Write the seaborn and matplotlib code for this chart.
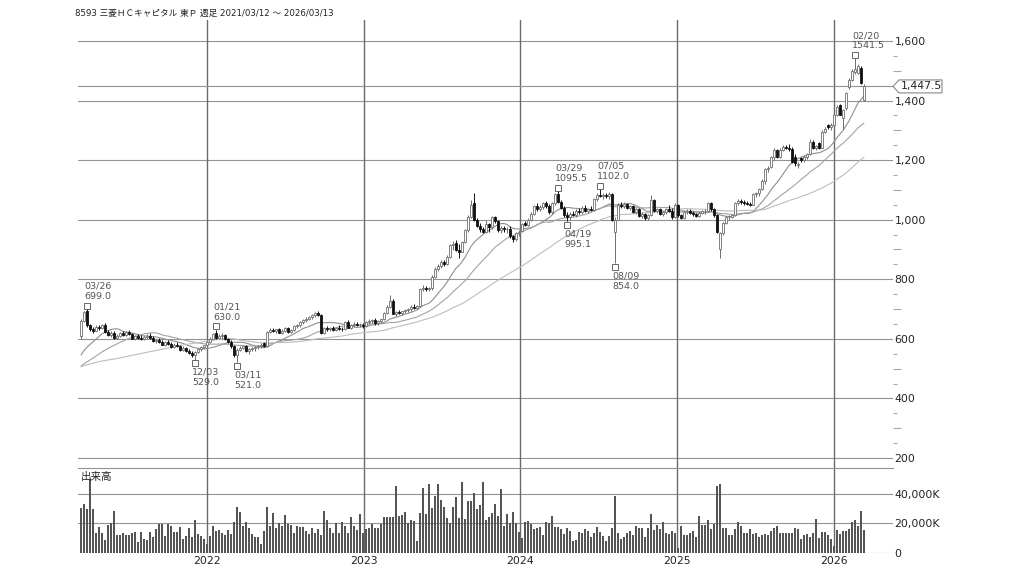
import numpy as np
import pandas as pd
import matplotlib
matplotlib.use("Agg")
import matplotlib.pyplot as plt
from matplotlib.patches import Polygon
from matplotlib.transforms import IdentityTransform, offset_copy
from matplotlib.ticker import FixedLocator, FuncFormatter, NullFormatter
import seaborn as sns

# ---------------- data ----------------
title = "8593 三菱ＨＣキャピタル 東Ｐ 週足 2021/03/12 ～ 2026/03/13"
start_date = "2021-03-12"
volume_label = "出来高"

# weekly (open, high, low, close)
ohlc_2021 = [
    (610, 668, 600, 660), (660, 695, 655, 690), (692, 699, 640, 645), (645, 650, 628, 632),
    (632, 640, 620, 628), (628, 645, 625, 640), (640, 648, 630, 635), (635, 650, 632, 645),
    (645, 652, 620, 622), (622, 630, 610, 612), (612, 625, 605, 620), (620, 628, 600, 602),
    (602, 615, 598, 610), (610, 622, 605, 618), (618, 625, 608, 612), (612, 628, 610, 622),
    (622, 630, 612, 615), (615, 620, 598, 600), (600, 612, 595, 608), (608, 615, 600, 604),
    (604, 612, 596, 598), (598, 610, 595, 606), (606, 615, 600, 610), (610, 618, 600, 603),
    (603, 608, 590, 592), (592, 600, 585, 595), (595, 602, 585, 588), (588, 595, 578, 580),
    (580, 592, 575, 588), (588, 596, 580, 584), (584, 590, 570, 572), (572, 585, 568, 580),
    (580, 588, 572, 576), (576, 580, 560, 562), (562, 575, 558, 570), (570, 574, 555, 558),
    (558, 565, 548, 552), (552, 560, 540, 545), (545, 560, 529, 556), (556, 568, 552, 565),
    (565, 575, 560, 572), (572, 580, 565, 578), (578, 592, 575, 588),
]
ohlc_2022 = [
    (588, 605, 585, 600), (600, 618, 598, 615), (618, 630, 600, 603), (603, 615, 598, 610),
    (610, 618, 600, 612), (612, 615, 595, 598), (598, 602, 585, 590), (590, 595, 570, 575),
    (575, 580, 540, 545), (545, 568, 521, 563), (563, 575, 558, 570), (570, 580, 565, 575),
    (575, 578, 555, 558), (558, 568, 550, 565), (565, 572, 560, 568), (568, 575, 560, 572),
    (572, 580, 565, 576), (576, 585, 570, 580), (585, 590, 572, 575), (575, 628, 572, 624),
    (624, 635, 618, 630), (630, 636, 622, 626), (626, 634, 620, 632), (632, 638, 618, 620),
    (620, 632, 615, 628), (628, 640, 622, 636), (636, 640, 618, 622), (622, 632, 618, 630),
    (630, 645, 626, 642), (642, 650, 635, 646), (646, 660, 640, 655), (655, 666, 650, 662),
    (662, 672, 655, 668), (668, 678, 662, 674), (674, 685, 668, 680), (680, 690, 675, 686),
    (686, 692, 676, 680), (680, 684, 615, 620), (620, 640, 615, 635), (635, 642, 628, 632),
    (632, 640, 625, 636), (636, 642, 628, 630), (630, 640, 625, 638), (638, 645, 630, 634),
    (634, 640, 628, 632), (632, 660, 630, 656), (656, 662, 635, 638), (638, 650, 634, 646),
    (646, 655, 640, 650), (650, 656, 642, 645), (645, 652, 640, 648), (648, 652, 638, 642),
]
ohlc_2023 = [
    (642, 660, 640, 655), (655, 665, 650, 660), (660, 668, 652, 664), (664, 670, 648, 652),
    (652, 662, 648, 660), (660, 668, 654, 665), (665, 690, 662, 688), (688, 712, 684, 708),
    (708, 747, 705, 728), (728, 735, 682, 685), (685, 695, 678, 690), (690, 696, 682, 686),
    (686, 695, 680, 692), (692, 700, 686, 696), (696, 705, 690, 700), (700, 712, 695, 708),
    (708, 716, 700, 704), (704, 712, 700, 710), (710, 772, 708, 768), (768, 780, 760, 772),
    (772, 778, 762, 768), (768, 775, 760, 770), (770, 815, 765, 808), (808, 840, 805, 835),
    (835, 850, 828, 845), (845, 865, 838, 858), (858, 866, 845, 850), (850, 880, 848, 875),
    (875, 920, 872, 915), (915, 930, 898, 920), (922, 932, 895, 898), (898, 918, 870, 893),
    (893, 930, 890, 925), (925, 970, 922, 965), (965, 1015, 960, 1010), (1010, 1066, 1005, 1049),
    (1055, 1089, 995, 1000), (1000, 1005, 975, 978), (978, 990, 960, 968), (968, 975, 955, 960),
    (960, 1000, 955, 985), (985, 990, 960, 975), (975, 1012, 970, 1008), (1008, 1012, 990, 995),
    (995, 998, 960, 965), (965, 978, 955, 972), (972, 980, 960, 968), (968, 975, 955, 970),
    (970, 980, 940, 945), (945, 950, 925, 935), (935, 958, 930, 955), (955, 965, 945, 960),
]
ohlc_2024 = [
    (962, 990, 958, 985), (990, 995, 978, 982), (982, 1005, 978, 1000), (1000, 1025, 995, 1020),
    (1020, 1050, 1015, 1045), (1045, 1055, 1030, 1035), (1035, 1048, 1028, 1042), (1042, 1058, 1035, 1055),
    (1055, 1062, 1040, 1045), (1045, 1052, 1020, 1025), (1025, 1060, 1020, 1055), (1055, 1090, 1050, 1085),
    (1085, 1095.5, 1055, 1060), (1060, 1065, 1035, 1040), (1040, 1045, 1010, 1015), (1015, 1025, 995.1, 1008),
    (1008, 1025, 1000, 1020), (1020, 1030, 1012, 1016), (1016, 1035, 1010, 1030), (1030, 1040, 1020, 1025),
    (1025, 1045, 1020, 1040), (1040, 1048, 1025, 1028), (1028, 1040, 1022, 1036), (1036, 1045, 1028, 1032),
    (1032, 1072, 1030, 1068), (1068, 1088, 1062, 1084), (1084, 1102, 1075, 1080), (1080, 1088, 1070, 1082),
    (1082, 1090, 1072, 1078), (1078, 1092, 1070, 1086), (1086, 1090, 995, 1000), (960, 1010, 854, 1000),
    (1000, 1055, 998, 1050), (1050, 1060, 1040, 1045), (1045, 1058, 1038, 1052), (1052, 1056, 1035, 1040),
    (1040, 1050, 1032, 1045), (1045, 1050, 1022, 1025), (1025, 1038, 1018, 1035), (1035, 1040, 1008, 1012),
    (1012, 1025, 1005, 1020), (1020, 1022, 1000, 1005), (1005, 1018, 1000, 1015), (1015, 1083, 1012, 1065),
    (1065, 1070, 1025, 1030), (1030, 1040, 1022, 1035), (1035, 1038, 1015, 1018), (1018, 1030, 1012, 1025),
    (1025, 1040, 1020, 1036), (1036, 1048, 1025, 1030), (1030, 1040, 1002, 1008), (1008, 1055, 1005, 1048),
]
ohlc_2025 = [
    (1048, 1052, 1010, 1015), (1015, 1020, 1002, 1006), (1006, 1030, 1002, 1025), (1025, 1035, 1018, 1030),
    (1030, 1036, 1020, 1024), (1024, 1030, 1012, 1018), (1018, 1022, 1008, 1012), (1012, 1028, 1008, 1024),
    (1024, 1032, 1018, 1028), (1028, 1035, 1020, 1030), (1030, 1060, 1025, 1055), (1055, 1060, 1030, 1035),
    (1035, 1040, 1010, 1016), (1016, 1020, 955, 960), (900, 958, 870, 954), (954, 992, 950, 988),
    (988, 1012, 985, 1008), (1008, 1015, 1000, 1010), (1010, 1020, 1005, 1015), (1016, 1058, 1012, 1055),
    (1055, 1068, 1050, 1062), (1062, 1070, 1052, 1060), (1060, 1066, 1050, 1055), (1055, 1062, 1048, 1052),
    (1052, 1060, 1045, 1050), (1050, 1090, 1048, 1085), (1085, 1092, 1076, 1088), (1088, 1108, 1080, 1104),
    (1104, 1136, 1100, 1130), (1130, 1175, 1120, 1170), (1170, 1180, 1160, 1175), (1178, 1215, 1175, 1210),
    (1210, 1240, 1200, 1234), (1234, 1238, 1208, 1212), (1212, 1240, 1208, 1235), (1235, 1250, 1230, 1245),
    (1245, 1252, 1236, 1240), (1240, 1255, 1232, 1238), (1238, 1245, 1190, 1195), (1210, 1220, 1180, 1189),
    (1185, 1195, 1172, 1188), (1206, 1212, 1195, 1200), (1200, 1218, 1195, 1212), (1212, 1225, 1205, 1220),
    (1222, 1270, 1218, 1262), (1262, 1266, 1236, 1240), (1240, 1252, 1234, 1248), (1256, 1262, 1238, 1242),
    (1242, 1300, 1240, 1296), (1296, 1310, 1290, 1306), (1318, 1322, 1305, 1310), (1310, 1325, 1302, 1318),
]
ohlc_2026 = [
    (1318, 1355, 1315, 1352), (1352, 1385, 1348, 1378), (1385, 1390, 1350, 1352), (1340, 1372, 1305, 1368),
    (1375, 1430, 1370, 1425), (1447, 1475, 1440, 1469), (1470, 1505, 1465, 1500), (1497, 1541.5, 1490, 1505),
    (1492, 1522, 1488, 1515), (1510, 1515, 1455, 1458), (1402, 1455, 1398, 1447.5),
]

# weekly volume, thousands of shares
vol_2021 = [30800, 33000, 29500, 50400, 30100, 13700, 17800, 13700, 8800, 18900, 20000, 28600, 11900,
            11900, 13300, 11900, 11900, 13300, 14200, 7400, 14200, 9700, 8800, 14200, 10600, 16000,
            19600, 19600, 11500, 19600, 18200, 14200, 14200, 17300, 9700, 11500, 16900, 10600, 22700,
            12800, 11500, 9700, 6100]
vol_2022 = [11500, 18200, 15100, 15500, 13700, 12200, 15500, 12800, 20900, 31300,
            27700, 18200, 20900, 16700, 12800, 10600, 10600, 6100, 15100, 31300,
            18200, 26800, 16700, 20500, 18200, 25700, 19600, 18900, 13300, 18200,
            17800, 17300, 14600, 12800, 16900, 13300, 16000, 11900, 28600, 22300,
            16900, 13300, 20500, 13700, 20900, 18200, 13700, 24100, 18200, 15500,
            26300, 13700]
vol_2023 = [16000, 16900, 19600, 16700, 16900, 19600, 24100, 24500, 24500, 24100,
            45700, 25400, 25900, 27900, 20000, 22700, 21400, 7900, 26800, 43900,
            26300, 47000, 30800, 38500, 47000, 35800, 31300, 23400, 20000, 31300,
            38000, 23600, 47900, 23200, 35300, 35300, 40700, 29900, 32200, 48400,
            22700, 24100, 26800, 33100, 25000, 43400, 18200, 26300, 20000, 27900,
            20000, 14400]
vol_2024 = [9900, 20700, 21400, 19400, 16200, 16700, 17800, 12400, 20900, 20000,
            25000, 17300, 17300, 16400, 12800, 16700, 14600, 7900, 8800, 14200,
            13700, 16000, 14600, 11000, 13700, 17800, 14200, 11500, 8300, 11500,
            16900, 38500, 13300, 9200, 10600, 13300, 14600, 11900, 18200, 16700,
            16900, 11000, 16900, 26300, 15500, 19100, 16000, 20900, 13700, 12800,
            15100, 13300]
vol_2025 = [3200, 18200, 12400, 12400, 13300, 15100, 10600, 25400, 19100, 19100,
            22300, 16400, 19600, 45200, 47000, 16900, 16900, 11900, 11900, 16400,
            20900, 18200, 13700, 13700, 16000, 12800, 13300, 10600, 12400, 12800,
            11900, 14600, 16700, 18200, 13700, 13700, 13700, 13700, 13700, 16700,
            16000, 9700, 11900, 12800, 10600, 13300, 23200, 10100, 14200, 14200,
            11900, 9700]
vol_2026 = [4700, 15500, 12800, 14600, 14600, 16400, 20900, 22700, 18200, 28600, 15500]

# closes of the 51 weeks before the window (only feed the moving averages)
prior_closes = [470, 480, 500, 510, 495, 505, 520, 530, 540, 535, 520, 510, 505, 500, 495, 500,
                505, 510, 500, 490, 495, 500, 505, 495, 490, 485,
                480, 475, 470, 465, 460, 458, 462, 468, 470, 472, 478, 480, 485,
                490, 500, 510, 515, 520, 525, 530, 540, 555, 565, 580, 600]

ma_windows = [13, 26, 52]
year_ticks = ["2022", "2023", "2024", "2025", "2026"]
price_ticks = [200, 400, 600, 800, 1000, 1200, 1400, 1600]
volume_ticks = [0, 20000, 40000]
high_marks = ["2021-03-26", "2022-01-21", "2024-03-29", "2024-07-05", "2026-02-20"]
low_marks = ["2021-12-03", "2022-03-11", "2024-04-19", "2024-08-09"]

# ---------------- frame ----------------
ohlc = ohlc_2021 + ohlc_2022 + ohlc_2023 + ohlc_2024 + ohlc_2025 + ohlc_2026
volume = vol_2021 + vol_2022 + vol_2023 + vol_2024 + vol_2025 + vol_2026
df = pd.DataFrame(ohlc, columns=["open", "high", "low", "close"])
df["volume"] = volume
start = pd.Timestamp(start_date)
df["date"] = pd.date_range(start, periods=len(df), freq="7D")
df["i"] = np.arange(len(df))
all_close = pd.Series(prior_closes + list(df["close"]), dtype=float)
for w in ma_windows:
    df[f"ma{w}"] = all_close.rolling(w).mean().iloc[len(prior_closes):].to_numpy()

# ---------------- style / layout ----------------
sns.set_style("white")
plt.rcParams["font.family"] = ["DejaVu Sans", "Noto Sans CJK JP"]

W, H = 1024, 576
L, R = 78, 893
fig = plt.figure(figsize=(W / 100, H / 100), dpi=100)
ax_p = fig.add_axes([L / W, (H - 468) / H, (R - L) / W, (468 - 20) / H])
ax_v = fig.add_axes([L / W, (H - 553) / H, (R - L) / W, (553 - 468) / H])

grid_c = "#939393"
year_c = "#6a6a6a"
year_pos = [(pd.Timestamp(f"{y}-01-01") - start).days / 7 for y in year_ticks]
for ax in (ax_p, ax_v):
    for x in year_pos:
        ax.axvline(x, color=year_c, lw=1.0, zorder=1)

# candles
up = df["close"] >= df["open"]
body_bottom = np.minimum(df["open"], df["close"])
body_h = np.maximum((df["close"] - df["open"]).abs(), 2.0)
ax_p.vlines(df["i"][up], df["low"][up], df["high"][up], color="#6e6e6e", lw=0.7, zorder=3)
ax_p.vlines(df["i"][~up], df["low"][~up], df["high"][~up], color="#111111", lw=0.7, zorder=3)
ax_p.bar(df["i"][up], body_h[up], bottom=body_bottom[up], width=0.8,
         facecolor="white", edgecolor="#6e6e6e", lw=0.6, zorder=4)
ax_p.bar(df["i"][~up], body_h[~up], bottom=body_bottom[~up], width=0.8,
         facecolor="#111111", edgecolor="#111111", lw=0.6, zorder=4)

# moving averages
ma_colors = ["#8f8f8f", "#a3a3a3", "#bdbdbd"]
for w, c in zip(ma_windows, ma_colors):
    sns.lineplot(x=df["i"], y=df[f"ma{w}"], ax=ax_p, color=c, lw=0.8, zorder=2)

# last price line
last = df["close"].iloc[-1]
ax_p.axhline(last, color=grid_c, lw=0.8, zorder=1)

# volume bars
sns.barplot(x=df["i"], y=df["volume"], ax=ax_v, native_scale=True, width=0.72,
            color="#555555", saturation=1, errorbar=None, linewidth=0, zorder=3)

# limits
for ax in (ax_p, ax_v):
    ax.set_xlim(-1, 270.67)
    ax.set_xlabel("")
    ax.set_ylabel("")
ax_p.set_ylim(166.4, 1670.5)
ax_v.set_ylim(0, 57600)

# price axis
ax_p.yaxis.tick_right()
ax_p.set_yticks(price_ticks)
ax_p.yaxis.set_major_formatter(FuncFormatter(lambda v, p: f"{int(v):,}"))
ax_p.tick_params(axis="y", length=0, pad=1, labelsize=7.8, labelcolor="#222222")
ax_p.tick_params(axis="x", bottom=False, labelbottom=False)
ax_p.grid(axis="y", color=grid_c, lw=0.8)
ax_p.grid(axis="x", visible=False)
ax_p.set_xticks([])
for s in ax_p.spines.values():
    s.set_visible(False)

sec = ax_p.secondary_yaxis("right")
sec.set_yticks([300, 500, 700, 900, 1100, 1300, 1500])
sec.yaxis.set_minor_locator(FixedLocator([250, 350, 450, 550, 650, 750, 850, 950, 1050,
                                          1150, 1250, 1350, 1450, 1550]))
sec.yaxis.set_major_formatter(NullFormatter())
sec.yaxis.set_minor_formatter(NullFormatter())
sec.tick_params(which="major", length=6, width=0.8, color="#aaaaaa")
sec.tick_params(which="minor", length=3, width=0.8, color="#aaaaaa")
for s in sec.spines.values():
    s.set_visible(False)

# volume axis
ax_v.yaxis.tick_right()
ax_v.set_yticks(volume_ticks)
ax_v.yaxis.set_major_formatter(FuncFormatter(lambda v, p: "0" if v == 0 else f"{int(v):,}K"))
ax_v.tick_params(axis="y", length=0, pad=1, labelsize=7.8, labelcolor="#222222")
ax_v.grid(axis="y", color=grid_c, lw=0.8)
ax_v.grid(axis="x", visible=False)
ax_v.set_xticks(year_pos)
ax_v.set_xticklabels(year_ticks)
ax_v.tick_params(axis="x", length=0, pad=2, labelsize=7.8, labelcolor="#222222")
for s in ["left", "right", "bottom"]:
    ax_v.spines[s].set_visible(False)
ax_v.spines["top"].set_visible(True)
ax_v.spines["top"].set_color(grid_c)
ax_v.spines["top"].set_linewidth(0.8)
ax_v.text(0.003, 0.89, volume_label, transform=ax_v.transAxes, fontsize=7.6,
          family=["Noto Sans CJK JP", "DejaVu Sans"], color="#222222", va="center", ha="left")

# title
fig.text(75 / W, 1 - 13 / H, title, fontsize=6.2, va="center", ha="left", color="#222222",
         family=["DejaVu Sans", "Noto Sans CJK JP"])

# high / low marks
off_up = offset_copy(ax_p.transData, fig=fig, x=0, y=3.5, units="dots")
off_dn = offset_copy(ax_p.transData, fig=fig, x=0, y=-3.5, units="dots")
for d in high_marks:
    row = df[df["date"] == pd.Timestamp(d)].iloc[0]
    ax_p.plot([row["i"]], [row["high"]], marker="s", ms=4.5, mfc="white", mec="#666666",
              mew=0.7, ls="none", transform=off_up, zorder=6)
    ax_p.annotate(f"{row['date']:%m/%d}\n{row['high']:.1f}", xy=(row["i"], row["high"]),
                  xytext=(-3, 8), textcoords="offset pixels", ha="left", va="bottom",
                  fontsize=6.8, color="#555555", linespacing=1.2, zorder=6)
for d in low_marks:
    row = df[df["date"] == pd.Timestamp(d)].iloc[0]
    ax_p.plot([row["i"]], [row["low"]], marker="s", ms=4.5, mfc="white", mec="#666666",
              mew=0.7, ls="none", transform=off_dn, zorder=6)
    ax_p.annotate(f"{row['date']:%m/%d}\n{row['low']:.1f}", xy=(row["i"], row["low"]),
                  xytext=(-3, -8), textcoords="offset pixels", ha="left", va="top",
                  fontsize=6.8, color="#555555", linespacing=1.2, zorder=6)

# current price tag
x0 = ax_p.bbox.x1
y0 = ax_p.transData.transform((0, last))[1]
tag = Polygon([[x0, y0], [x0 + 6, y0 + 6.5], [x0 + 49, y0 + 6.5], [x0 + 49, y0 - 6.5],
               [x0 + 6, y0 - 6.5]], closed=True, transform=IdentityTransform(),
              facecolor="white", edgecolor="#888888", lw=0.8, zorder=10)
fig.add_artist(tag)
fig.text(x0 + 7.5, y0, f"{last:,.1f}", transform=IdentityTransform(), fontsize=7.8,
         va="center", ha="left", color="#222222", zorder=11)

fig.savefig("out.png", dpi=100)
